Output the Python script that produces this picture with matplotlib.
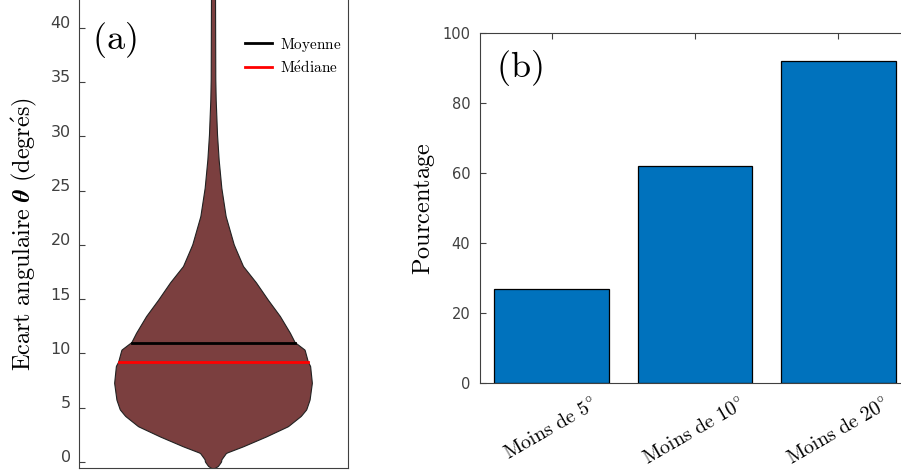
import numpy as np
import matplotlib
matplotlib.use('Agg')
from matplotlib import pyplot as plt
from matplotlib import transforms

plt.rcParams['mathtext.fontset'] = 'cm'
plt.rcParams['font.family'] = ['DejaVu Sans']

# panel (a): violin profile (angle in degrees, half width)
theta = [-0.7, -0.4, 0.0, 0.2, 0.8, 1.4, 2.3, 3.25, 4.2, 4.8, 5.7, 7.25,
         8.8, 9.2, 10.3, 11.0, 11.85, 13.4, 14.9, 16.5, 18.0, 19.5, 20.0,
         22.6, 25.2, 27.8, 30.1, 33.3, 35.2, 43.0]
half_width = [0.0, 0.037, 0.06, 0.062, 0.097, 0.223, 0.393, 0.557, 0.653,
              0.693, 0.718, 0.735, 0.722, 0.705, 0.681, 0.607, 0.572, 0.497,
              0.408, 0.319, 0.223, 0.171, 0.154, 0.094, 0.062, 0.042, 0.030,
              0.020, 0.017, 0.015]
moyenne = 11.0
mediane = 9.2

# panel (b): share of cases under each threshold
categories = ['Moins de 5°', 'Moins de 10°', 'Moins de 20°']
pourcentage = [27, 62, 92]


def tex(s):
    s = s.replace(' ', r'\ ').replace('°', r'^{\circ}').replace('é', r'\acute{e}')
    return r'$\mathrm{' + s + '}$'


fig = plt.figure(figsize=(9.01, 4.72), dpi=100)

#   Panel (a)
ax1 = fig.add_axes([79/901, 1-468/472, 269/901, 468/472])
th = np.linspace(theta[0], theta[-1], 600)
hw = np.interp(th, theta, half_width)
ax1.fill_betweenx(th, 1-hw, 1+hw, facecolor='#7b3f3f', edgecolor='#222222', lw=0.8)

w = np.interp(moyenne, theta, half_width)
ax1.plot([1-w, 1+w], [moyenne, moyenne], color='black', lw=2, label=tex('Moyenne'))
w = np.interp(mediane, theta, half_width)
ax1.plot([1-w, 1+w], [mediane, mediane], color='red', lw=2, label=tex('Médiane'))

ax1.set_xlim(0, 2)
ax1.set_ylim(-0.55, 42.54)
ax1.set_xticks([])
ax1.set_yticks(np.arange(0, 41, 5))
ax1.tick_params(axis='y', direction='in', length=4, labelsize=11.5,
                labelcolor='#404040', color='#404040', pad=6)
off = transforms.ScaledTranslation(0, 4/72, fig.dpi_scale_trans)
for lbl in ax1.get_yticklabels():
    lbl.set_transform(lbl.get_transform() + off)
ax1.spines['top'].set_visible(False)
for s in ['left', 'bottom', 'right']:
    ax1.spines[s].set_color('#404040')
ax1.set_ylabel(r'$\mathrm{Ecart\ angulaire}\ \boldsymbol{\theta}\ \mathrm{(degr\acute{e}s)}$',
               fontsize=17.5, labelpad=8)
ax1.text(0.05, 0.895, r'$\mathrm{(a)}$', transform=ax1.transAxes, fontsize=26)
ax1.legend(loc='upper right', bbox_to_anchor=(1.005, 0.94), frameon=False,
           fontsize=11, handlelength=1.8, handletextpad=0.5, labelspacing=0.35,
           borderpad=0)

#   Panel (b)
ax2 = fig.add_axes([480/901, 1-383.3/472, 430/901, 350/472])
x = np.arange(1, len(categories)+1)
ax2.bar(x, pourcentage, width=0.8, color='#0072BD', edgecolor='black', lw=0.9)
ax2.set_xlim(0.5, 3.5)
ax2.set_ylim(0, 100)
ax2.set_yticks(np.arange(0, 101, 20))
ax2.set_xticks(x)
ax2.set_xticklabels([tex(c) for c in categories], rotation=30, ha='center',
                    fontsize=14.5)
shift = transforms.ScaledTranslation(-6/72, 0, fig.dpi_scale_trans)
for lbl in ax2.get_xticklabels():
    lbl.set_transform(lbl.get_transform() + shift)
ax2.tick_params(axis='y', direction='in', length=4, labelsize=10.5,
                labelcolor='#404040', color='#404040', pad=7)
ax2.tick_params(axis='x', direction='in', length=4, bottom=False, top=True,
                pad=9, color='#404040')
for s in ax2.spines.values():
    s.set_color('#404040')
ax2.set_ylabel(tex('Pourcentage'), fontsize=17.5, labelpad=4)
ax2.text(0.037, 0.875, r'$\mathrm{(b)}$', transform=ax2.transAxes, fontsize=26)

fig.savefig('out.png', dpi=100)
